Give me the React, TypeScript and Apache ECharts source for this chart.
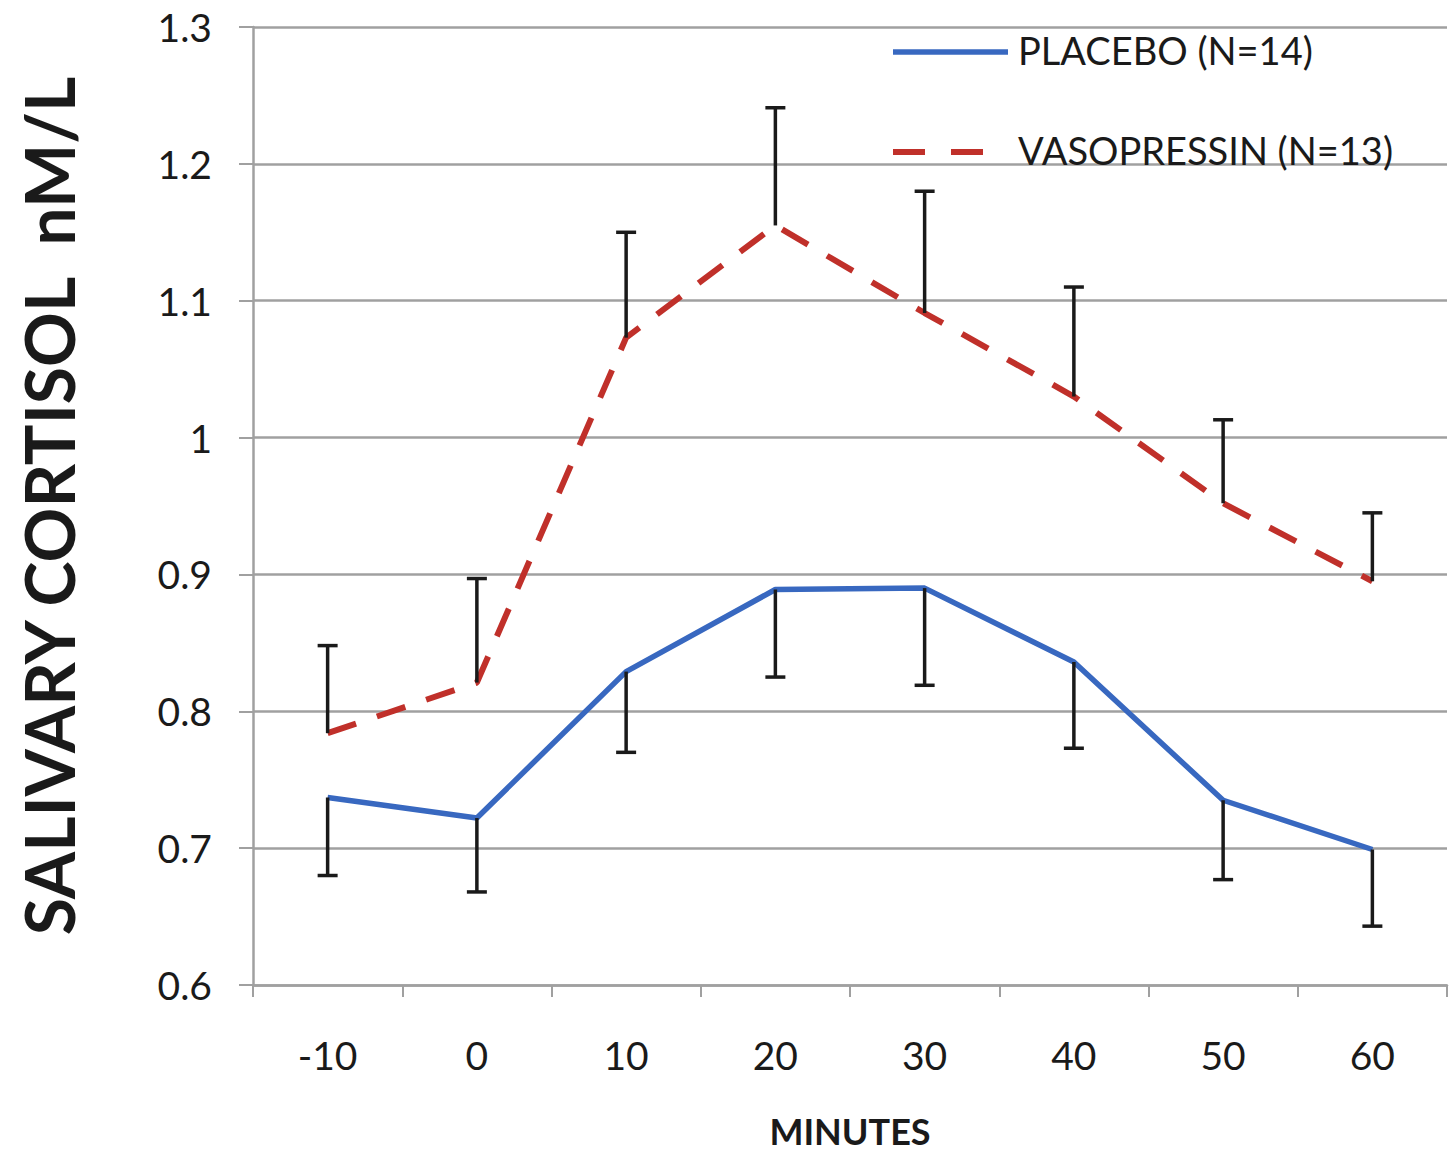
import React, { useEffect, useRef } from "react";
import * as echarts from "echarts";

const minutes = ["-10", "0", "10", "20", "30", "40", "50", "60"];
const placeboMean = [0.737, 0.722, 0.829, 0.889, 0.890, 0.836, 0.735, 0.699];
const placeboLow = [0.680, 0.668, 0.770, 0.825, 0.819, 0.773, 0.677, 0.643];
const vasoMean = [0.784, 0.821, 1.073, 1.155, 1.091, 1.030, 0.952, 0.895];
const vasoHigh = [0.848, 0.897, 1.150, 1.241, 1.180, 1.110, 1.013, 0.945];
const placeboName = "PLACEBO (N=14)";
const vasoName = "VASOPRESSIN (N=13)";

const BLUE = "#3868c0";
const RED = "#c0302a";

export default function App() {
  const ref = useRef<HTMLDivElement>(null);
  useEffect(() => {
    if (!ref.current) return;
    const chart = echarts.init(ref.current, null, { renderer: "svg" });
    const font = "Lato, 'Open Sans', sans-serif";
    const errRender = (params: any, api: any) => {
      const p0 = api.coord([api.value(0), api.value(1)]);
      const p1 = api.coord([api.value(0), api.value(2)]);
      const cap = 10;
      const st = { stroke: "#1a1a1a", lineWidth: 3.5 };
      return {
        type: "group",
        children: [
          { type: "line", shape: { x1: p0[0], y1: p0[1], x2: p1[0], y2: p1[1] }, style: st },
          { type: "line", shape: { x1: p1[0] - cap, y1: p1[1], x2: p1[0] + cap, y2: p1[1] }, style: st },
        ],
      };
    };
    const legendText = { fontFamily: font, fontSize: 38, fill: "#1a1a1a" };
    chart.setOption({
      animation: false,
      backgroundColor: "#ffffff",
      grid: { left: 253, right: 3, top: 27, bottom: 168, containLabel: false, outerBoundsMode: "none" },
      graphic: [
        { type: "line", shape: { x1: 893, y1: 52, x2: 1008, y2: 52 }, style: { stroke: BLUE, lineWidth: 5.5 }, z: 10 },
        { type: "text", left: 1018, top: 52 - 21, style: { ...legendText, text: placeboName }, z: 10 },
        { type: "line", shape: { x1: 893, y1: 152, x2: 925, y2: 152 }, style: { stroke: RED, lineWidth: 6 }, z: 10 },
        { type: "line", shape: { x1: 951, y1: 152, x2: 983, y2: 152 }, style: { stroke: RED, lineWidth: 6 }, z: 10 },
        { type: "text", left: 1018, top: 152 - 21, style: { ...legendText, text: vasoName }, z: 10 },
      ],
      xAxis: {
        type: "category",
        data: minutes,
        boundaryGap: true,
        name: "MINUTES",
        nameLocation: "middle",
        nameGap: 128,
        nameTextStyle: { fontFamily: font, fontSize: 36, fontWeight: "bold", color: "#1a1a1a", lineHeight: 36 },
        axisLine: { lineStyle: { color: "#a0a0a0", width: 2.5 } },
        axisTick: { show: true, length: 12, lineStyle: { color: "#a0a0a0", width: 2 } },
        axisLabel: { fontFamily: font, fontSize: 39, color: "#1a1a1a", margin: 50 },
      },
      yAxis: {
        type: "value",
        min: 0.6,
        max: 1.3,
        interval: 0.1,
        name: "SALIVARY CORTISOL  nM/L",
        nameLocation: "middle",
        nameGap: 171,
        nameRotate: 90,
        nameTextStyle: { fontFamily: font, fontSize: 68, fontWeight: "bold", color: "#1a1a1a" },
        axisLine: { show: true, lineStyle: { color: "#a0a0a0", width: 2.5 } },
        axisTick: { show: true, length: 14, lineStyle: { color: "#a0a0a0", width: 2 } },
        axisLabel: { fontFamily: font, fontSize: 39, color: "#1a1a1a", margin: 41 },
        splitLine: { show: true, lineStyle: { color: "#a0a0a0", width: 2.5 } },
      },
      series: [
        {
          name: placeboName,
          type: "line",
          data: placeboMean,
          showSymbol: false,
          symbol: "none",
          lineStyle: { color: BLUE, width: 5.5 },
          itemStyle: { color: BLUE },
          z: 3,
        },
        {
          name: vasoName,
          type: "line",
          data: vasoMean,
          showSymbol: false,
          symbol: "none",
          lineStyle: { color: RED, width: 6, type: [30, 22] },
          itemStyle: { color: RED },
          z: 3,
        },
        {
          type: "custom",
          renderItem: errRender,
          data: placeboMean.map((v, i) => [i, v, placeboLow[i]]),
          z: 4,
          silent: true,
        },
        {
          type: "custom",
          renderItem: errRender,
          data: vasoMean.map((v, i) => [i, v, vasoHigh[i]]),
          z: 4,
          silent: true,
        },
      ],
    });
    return () => chart.dispose();
  }, []);
  return (
    <div
      ref={ref}
      style={{ position: "absolute", left: 0, top: 0, width: 1450, height: 1153 }}
    />
  );
}
